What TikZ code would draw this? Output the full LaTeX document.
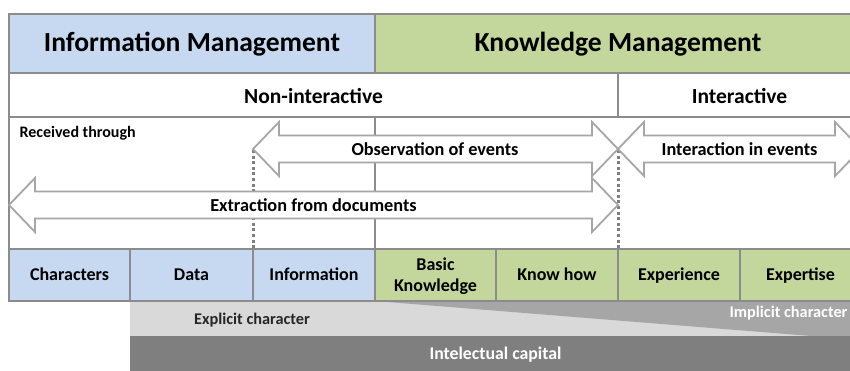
\documentclass[tikz,border=0pt]{standalone}
\usepackage{fontspec}
\setmainfont{Carlito}
\definecolor{imblue}{HTML}{C6D9F1}
\definecolor{kmgreen}{HTML}{C3D69B}
\definecolor{gridgray}{HTML}{8C8C8C}
\definecolor{arrgray}{HTML}{A6A6A6}
\definecolor{lightg}{HTML}{D9D9D9}
\definecolor{midg}{HTML}{A6A6A6}
\definecolor{darkg}{HTML}{7F7F7F}
\newcommand\DblArrow[3]{%
  \draw[arr] (#1,#3) -- (#1+26,#3-27) -- (#1+26,#3-13.5) -- (#2-26,#3-13.5) -- (#2-26,#3-27)
    -- (#2,#3) -- (#2-26,#3+27) -- (#2-26,#3+13.5) -- (#1+26,#3+13.5) -- (#1+26,#3+27) -- cycle;}
\begin{document}
\begin{tikzpicture}[x=1pt,y=-1pt,
  grid/.style={draw=gridgray,line width=2.2pt},
  arr/.style={draw=arrgray,fill=white,line width=1.8pt,line join=miter},
  dots/.style={draw=darkg,line width=3pt,dash pattern=on 3pt off 2.6pt},
  head/.style={font=\bfseries\fontsize{27.6}{30}\selectfont,text=black},
  rowlbl/.style={font=\bfseries\fontsize{21.5}{24}\selectfont,text=black},
  boxlbl/.style={font=\bfseries\fontsize{18}{20}\selectfont,text=black,align=center},
  onebox/.style={boxlbl,text height=12.5pt,text depth=4pt},
  arrlbl/.style={font=\bfseries\fontsize{18.3}{20}\selectfont,text=black},
  small/.style={font=\bfseries\fontsize{16}{18}\selectfont,text=black},
  bandlbl/.style={font=\bfseries\fontsize{16.3}{18}\selectfont}]
\useasboundingbox (0,0) rectangle (850,370);
\clip (0,0) rectangle (850,370);
\fill[white] (0,0) rectangle (850,370);
% fills
\fill[imblue] (9,14) rectangle (375,73);
\fill[kmgreen] (375,14) rectangle (861,73);
\fill[imblue] (9,249) rectangle (375,301);
\fill[kmgreen] (375,249) rectangle (861,301);
\fill[lightg] (130,301) rectangle (861,336);
\fill[midg] (375,301) -- (861,301) -- (861,340) -- cycle;
\fill[darkg] (130,336) rectangle (861,380);
% grid
\draw[grid] (9,301) -- (9,14) -- (861,14);
\draw[grid] (9,73) -- (861,73);
\draw[grid] (9,117) -- (861,117);
\draw[grid] (9,249) -- (861,249);
\draw[grid] (8,301) -- (861,301);
\draw[grid] (375,14) -- (375,73);
\draw[grid] (375,117) -- (375,301);
\draw[grid] (618,73) -- (618,117);
\draw[grid] (130,249) -- (130,301);
\draw[grid] (253,249) -- (253,301);
\draw[grid] (496,249) -- (496,301);
\draw[grid] (618,249) -- (618,301);
\draw[grid] (740,249) -- (740,301);
% dotted boundaries
\draw[dots] (253,150) -- (253,248);
\draw[dots] (618,150) -- (618,248);
% arrows
\DblArrow{253}{618}{149}
\DblArrow{618}{861}{149}
\DblArrow{9}{618}{205}
% texts
\node[head] (im) at (192,44) {Information Management};
\node[head] (km) at (618,44) {Knowledge Management};
\node[rowlbl] (ni) at (313.5,96) {Non-interactive};
\node[rowlbl] (ia) at (739.5,96) {Interactive};
\node[small,anchor=west] (rt) at (16,133) {Received through};
\node[arrlbl] (oe) at (435,149) {Observation of events};
\node[arrlbl] (ie) at (739.5,149) {Interaction in events};
\node[arrlbl] (ed) at (313.5,205) {Extraction from documents};
\node[onebox] (c1) at (69.5,276.5) {Characters};
\node[onebox] (c2) at (191.5,276.5) {Data};
\node[onebox] (c3) at (314,276.5) {Information};
\node[boxlbl] (c4) at (435.5,276) {Basic\\[1pt]Knowledge};
\node[onebox] (c5) at (557,276.5) {Know how};
\node[onebox] (c6) at (679,276.5) {Experience};
\node[onebox] (c7) at (800.5,276.5) {Expertise};
\node[bandlbl,text=black!85] (ex) at (252,320) {Explicit character};
\node[bandlbl,text=white,anchor=east] (imp) at (851,313) {Implicit character};
\node[bandlbl,text=white,font=\bfseries\fontsize{17.8}{20}\selectfont] (ic) at (495.5,355) {Intelectual capital};
\end{tikzpicture}
\end{document}
